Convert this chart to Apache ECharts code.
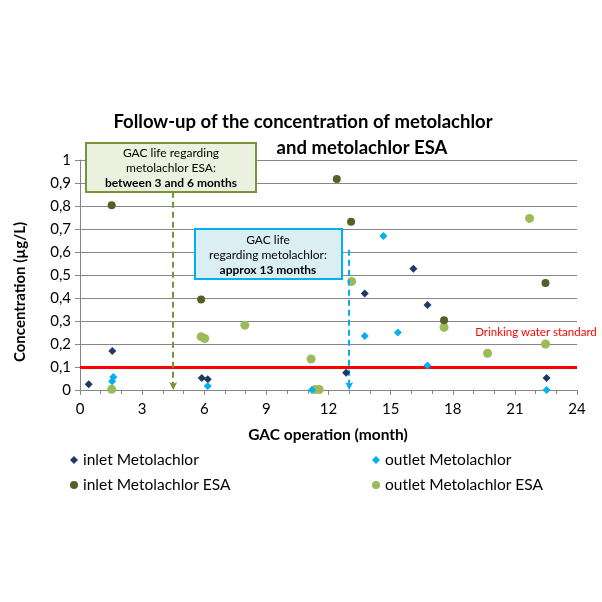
<!DOCTYPE html>
<html>
<head>
<meta charset="utf-8">
<script src="https://cdn.jsdelivr.net/npm/echarts@6/dist/echarts.min.js"></script>
<style>
    html, body {margin: 0; padding: 0; background: #fff;}
    #main {width: 602px; height: 602px;}
</style>
</head>
<body>
<div id="main"></div>
<script>
// values: [month, concentration µg/L]
var inletMeto = [[0.42, 0.025], [1.56, 0.17], [5.88, 0.052], [6.17, 0.047], [12.85, 0.075],
    [13.75, 0.42], [16.1, 0.527], [16.78, 0.37], [22.53, 0.052]];
var outletMeto = [[1.61, 0.057], [1.55, 0.038], [6.17, 0.017], [11.2, 0], [13.75, 0.235],
    [14.65, 0.67], [15.35, 0.25], [16.78, 0.106], [22.53, 0]];
var inletEsa = [[1.53, 0.803], [5.85, 0.393], [12.4, 0.917], [13.09, 0.732], [17.58, 0.303], [22.48, 0.465]];
var outletEsa = [[1.53, 0.003], [5.85, 0.232], [6.02, 0.224], [7.96, 0.282], [11.16, 0.135],
    [11.35, 0.002], [11.55, 0.002], [13.12, 0.472], [17.58, 0.272], [19.68, 0.16],
    [21.71, 0.746], [22.48, 0.2]];
var standard = 0.1;
var esaLife = 4.5, metoLife = 13;
var xTicks = [0, 3, 6, 9, 12, 15, 18, 21, 24];

var font = 'Lato';
var myChart = echarts.init(document.getElementById('main'));

//图例样式
function legendItem(name, left, top) {
    return {
        data: [name], left: left, top: top, padding: 0, itemWidth: 8, itemHeight: 8, itemGap: 4,
        textStyle: {fontSize: 15.5, color: '#000', fontFamily: font}
    };
}

var option = {
    backgroundColor: '#fff',
    textStyle: {fontFamily: font},
    grid: {left: 80, right: 25, top: 160, bottom: 212},
    xAxis: {
        type: 'value',
        min: 0,
        max: 24,
        interval: 3,
        axisLine: {lineStyle: {color: '#868686'}},
        axisTick: {show: true, length: 5, lineStyle: {color: '#868686'}},
        minorTick: {show: true, splitNumber: 3, length: 4, lineStyle: {color: '#868686'}},
        splitLine: {show: false},
        axisLabel: {
            color: '#000', fontSize: 15, margin: 12, fontFamily: font,
            formatter: function (v) { return xTicks.indexOf(v) >= 0 ? v : ''; }
        }
    },
    yAxis: {
        type: 'value',
        min: 0,
        max: 1,
        interval: 0.1,
        axisLine: {show: true, lineStyle: {color: '#868686'}},
        axisTick: {show: true, length: 5, lineStyle: {color: '#868686'}},
        splitLine: {lineStyle: {color: '#868686', width: 1}},
        axisLabel: {
            color: '#000', fontSize: 15, margin: 9, fontFamily: font,
            formatter: function (v) { return String(Math.round(v * 10) / 10).replace('.', ','); }
        }
    },
    legend: [
        legendItem('inlet Metolachlor', 70, 452),
        legendItem('inlet Metolachlor ESA', 70, 477),
        legendItem('outlet Metolachlor', 372, 452),
        legendItem('outlet Metolachlor ESA', 372, 477)
    ],
    series: [
        {
            name: 'inlet Metolachlor',
            type: 'scatter',
            symbol: 'diamond',
            symbolSize: 8,
            itemStyle: {color: '#1f3864', opacity: 1},
            data: inletMeto,
            z: 5,
            markLine: {
                silent: true,
                symbol: 'none',
                label: {show: false},
                lineStyle: {color: '#ff0000', width: 3, type: 'solid'},
                data: [{yAxis: standard}]
            }
        },
        {
            name: 'outlet Metolachlor',
            type: 'scatter',
            symbol: 'diamond',
            symbolSize: 8,
            itemStyle: {color: '#00b0f0', opacity: 1},
            data: outletMeto,
            z: 5,
            markLine: {
                silent: true,
                symbol: ['none', 'arrow'],
                symbolSize: [6, 8],
                label: {show: false},
                lineStyle: {color: '#00b0f0', width: 2, type: [6, 4]},
                data: [[{coord: [metoLife, 0.61]}, {coord: [metoLife, 0]}]]
            }
        },
        {
            name: 'inlet Metolachlor ESA',
            type: 'scatter',
            symbol: 'circle',
            symbolSize: 8,
            itemStyle: {color: '#4f6228', opacity: 1},
            data: inletEsa,
            z: 5,
            markLine: {
                silent: true,
                symbol: ['none', 'arrow'],
                symbolSize: [6, 8],
                label: {show: false},
                lineStyle: {color: '#77933c', width: 2, type: [6, 4]},
                data: [[{coord: [esaLife, 0.862]}, {coord: [esaLife, 0]}]]
            }
        },
        {
            name: 'outlet Metolachlor ESA',
            type: 'scatter',
            symbol: 'circle',
            symbolSize: 9,
            itemStyle: {color: '#9bbb59', opacity: 1},
            data: outletEsa,
            z: 4
        }
    ],
    graphic: [
        {type: 'text', x: 303, y: 122, style: {text: 'Follow-up of the concentration of metolachlor',
            font: 'bold 18.5px ' + font, fill: '#000', textAlign: 'center', textVerticalAlign: 'middle'}},
        {type: 'text', x: 362, y: 148, style: {text: 'and metolachlor ESA',
            font: 'bold 18.5px ' + font, fill: '#000', textAlign: 'center', textVerticalAlign: 'middle'}},
        {type: 'text', x: 20, y: 292, rotation: Math.PI / 2, style: {text: 'Concentration (µg/L)',
            font: 'bold 15px ' + font, fill: '#000', textAlign: 'center', textVerticalAlign: 'middle'}},
        {type: 'text', x: 328, y: 435, style: {text: 'GAC operation (month)',
            font: 'bold 15.5px ' + font, fill: '#000', textAlign: 'center', textVerticalAlign: 'middle'}},
        {type: 'text', x: 536, y: 332, z: 10, style: {text: 'Drinking water standard',
            font: '11.5px ' + font, fill: '#ff0000', textAlign: 'center', textVerticalAlign: 'middle'}},
        {type: 'rect', shape: {x: 86, y: 143, width: 170, height: 49}, z: 10,
            style: {fill: '#ebf1de', stroke: '#77933c', lineWidth: 2}},
        {type: 'text', x: 171, y: 168, z: 11, style: {
            text: '{n|GAC life regarding}\n{n|metolachlor ESA:}\n{b|between 3 and 6 months}',
            textAlign: 'center', textVerticalAlign: 'middle',
            rich: {n: {font: '12px ' + font, fill: '#000', lineHeight: 15},
                b: {font: 'bold 12px ' + font, fill: '#000', lineHeight: 15}}}},
        {type: 'rect', shape: {x: 195, y: 229, width: 147, height: 50}, z: 10,
            style: {fill: '#dbeef4', stroke: '#00b0f0', lineWidth: 2}},
        {type: 'text', x: 268, y: 255, z: 11, style: {
            text: '{n|GAC life}\n{n|regarding metolachlor:}\n{b|approx 13 months}',
            textAlign: 'center', textVerticalAlign: 'middle',
            rich: {n: {font: '12px ' + font, fill: '#000', lineHeight: 15},
                b: {font: 'bold 12px ' + font, fill: '#000', lineHeight: 15}}}}
    ]
};

myChart.setOption(option);
</script>
</body>
</html>
